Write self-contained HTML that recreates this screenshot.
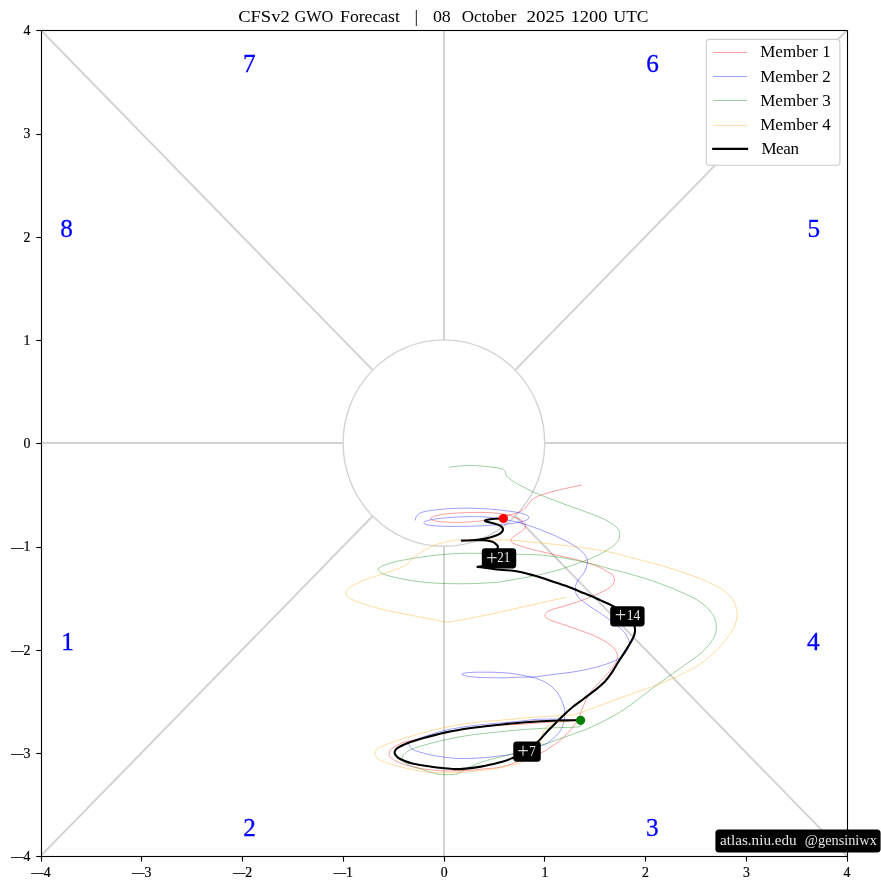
<!DOCTYPE html>
<html lang="en"><head><meta charset="utf-8"><title>CFSv2 GWO Forecast</title>
<style>html,body{margin:0;padding:0;background:#fff}body{width:881px;height:890px;overflow:hidden}svg{display:block}text{font-family:"Liberation Serif", "DejaVu Serif", serif;fill:#000}.tk{font-size:13.6px;stroke:#000;stroke-width:0.2px}.ph{font-size:24.2px;fill:#0000ff;stroke:#0000ff;stroke-width:0.3px}.lg{font-size:17px}.lb{font-size:13.6px;fill:#ececec}.mem{fill:none;stroke-width:0.75;stroke-opacity:0.5;stroke-linejoin:round}.gl{stroke:#d3d3d3;stroke-width:2;fill:none}</style></head><body>
<svg width="881" height="890" viewBox="0 0 881 890">
<rect width="881" height="890" fill="#fff"/>
<defs><clipPath id="ax"><rect x="41.5" y="30.5" width="806" height="826"/></clipPath></defs>
<g clip-path="url(#ax)">
<g class="gl">
<line x1="41.5" y1="443" x2="343.1" y2="443"/>
<line x1="544.6" y1="443" x2="847.5" y2="443"/>
<line x1="444" y1="30.5" x2="444" y2="339.9"/>
<line x1="444" y1="546.2" x2="444" y2="856.5"/>
<line x1="372.7" y1="516" x2="40.9" y2="855.9"/>
<line x1="372.7" y1="370.1" x2="40.9" y2="30.2"/>
<line x1="515.1" y1="516" x2="846.9" y2="855.9"/>
<line x1="515.1" y1="370.1" x2="846.9" y2="30.2"/>
</g>
<ellipse cx="443.9" cy="443.1" rx="100.8" ry="103.2" fill="none" stroke="#d3d3d3" stroke-width="1.4"/>
<path class="mem" stroke="#ff0000" d="M580.6 720.3C576.1 720.5 563.4 721.1 553.6 721.8C543.8 722.4 530.8 723.6 521.8 724.2C512.8 724.8 508.2 724.7 499.8 725.3C491.4 725.9 480.2 726.6 471.2 727.8C462.2 729 453.7 730.9 445.8 732.6C437.9 734.3 430.5 736.5 423.6 738.1C416.7 739.7 409.8 740.4 404.5 742.1C399.2 743.8 394.3 746.8 391.8 748.5C389.3 750.2 389.7 750.9 389.4 752.4C389.1 753.9 388.5 755.5 390.2 757.2C391.9 758.9 395.5 761.1 399.7 762.8C403.9 764.5 409 766.2 415.6 767.5C422.2 768.8 431.6 770.2 439.5 770.7C447.4 771.2 455.4 771.1 463.3 770.7C471.2 770.4 481 769.2 487.1 768.6C493.2 768 495.4 768.2 499.8 767.3C504.2 766.4 506.9 765.5 513.8 763.1C520.6 760.7 534.8 755.4 540.9 752.8C547 750.1 547 749.5 550.4 747.2C553.8 745 557.8 742.6 561.5 739.3C565.2 736 569.7 730.9 572.5 727.5C575.3 724.1 577 721.8 578.5 719C580 716.2 580.2 713.9 581.4 710.9C582.6 707.9 584.1 704 585.6 700.9C587.1 697.8 588.5 695 590.6 692.1C592.7 689.2 595.7 686 598.2 683.3C600.7 680.6 603.1 678.6 605.5 675.9C607.9 673.2 610.9 669.9 612.8 667.2C614.7 664.5 616.4 662 617 659.5C617.6 657 617.9 654.8 616.6 652.3C615.4 649.8 613.3 647 609.5 644.2C605.7 641.4 600.2 638.4 593.6 635.5C587 632.6 577.1 629.4 569.7 626.7C562.3 624.1 553.2 621.6 549.1 619.6C545 617.6 544.8 616.4 545.1 614.8C545.4 613.2 546.6 611.7 550.7 610C554.8 608.3 562.6 606.9 569.7 604.5C576.9 602.1 587 598.6 593.6 595.8C600.2 593 606.1 590.2 609.5 587.8C612.9 585.4 613.6 583.5 614.2 581.5C614.9 579.5 614.1 577.3 613.4 575.9C612.6 574.5 612.2 574.7 609.7 573.2C607.2 571.7 603.5 568.9 598.5 566.8C593.5 564.7 586.6 562.4 579.5 560.4C572.4 558.4 563.6 556.8 555.6 554.9C547.6 553 538.7 551.1 531.8 549.3C524.9 547.4 517.8 545.4 514.3 543.8C510.8 542.2 510.8 541.3 511.1 539.8C511.4 538.3 513.8 536.7 515.9 535C518 533.3 522.2 531.2 523.8 529.5C525.4 527.8 525.9 526.3 525.4 524.7C524.9 523.1 522.8 521.2 520.7 519.9C518.6 518.6 514.8 517.5 512.7 516.7C510.6 515.9 511.7 515.5 508.3 514.9C504.9 514.2 499 513.2 492.4 512.8C485.8 512.4 476.6 512.3 468.6 512.5C460.7 512.7 450.5 513.4 444.7 514.1C438.9 514.8 436 515.7 433.6 516.5C431.2 517.3 429.9 518 430.4 518.8C430.9 519.6 433.1 520.6 436.8 521.2C440.5 521.8 447.4 522.2 452.7 522.3C458 522.4 463.3 522.3 468.6 522C473.9 521.7 479.7 521.1 484.5 520.4C489.3 519.7 493.3 518.8 497.2 518C501.1 517.2 504.5 516.4 507.9 515.5C511.3 514.6 514.6 514 517.5 512.8C520.4 511.5 523.3 509.9 525.4 508C527.5 506.1 528.4 503.5 530.2 501.6C532.1 499.8 533.6 498.3 536.5 496.9C539.4 495.4 543.2 494.2 547.7 492.9C552.2 491.6 557.9 490.2 563.6 488.9C569.3 487.6 578.8 485.6 581.8 485"/>
<path class="mem" stroke="#0000ff" d="M580.6 720.3C577.2 720.1 567.1 719.5 560 719.3C552.9 719.1 544.1 719 537.7 719.3C531.3 719.6 528.1 720.4 521.8 721C515.5 721.6 508.2 722.2 499.8 723C491.4 723.8 480.2 724.7 471.2 725.9C462.2 727.1 452.9 728.6 445.8 730.2C438.7 731.8 433.3 733.7 428.3 735.3C423.3 736.9 418.7 738.4 415.6 739.7C412.5 741 410.7 742 409.6 742.9C408.6 743.8 408.8 744.2 409.3 745.3C409.8 746.4 410 748 412.4 749.3C414.8 750.6 419.1 752 423.6 753.2C428.1 754.4 433.7 755.5 439.5 756.4C445.3 757.3 451.9 758.2 458.5 758.5C465.1 758.8 472.3 758.4 479.2 758C486.1 757.6 494 756.6 499.8 755.9C505.6 755.2 506.9 755.3 513.8 753.6C520.6 751.9 534.8 747.7 540.9 745.6C547 743.5 547.2 743.2 550.4 740.8C553.6 738.4 557.6 734.5 559.9 731.3C562.1 728.1 563.1 725.2 563.9 721.8C564.7 718.4 564.8 713.4 564.7 710.7C564.6 708 564.6 708.2 563.5 705.4C562.4 702.5 560.5 697.1 558.1 693.6C555.7 690.1 552.3 686.9 549 684.5C545.7 682.1 541.7 680.4 538.1 679C534.5 677.6 531.5 677.2 527.2 676.3C523 675.4 518.1 674.3 512.6 673.6C507.2 672.9 501.1 672.5 494.5 672.3C487.9 672.1 478 672.1 472.7 672.3C467.4 672.5 464.2 673.1 462.7 673.6C461.2 674.1 461.3 674.8 463.6 675.4C465.9 676 470.2 676.8 476.3 677.2C482.4 677.6 492.9 677.8 499.9 677.8C506.9 677.8 512.4 677.4 518.1 677.2C523.9 677.1 528.5 677.4 534.4 676.9C540.3 676.4 546.6 675.3 553.8 674.4C561 673.5 569.8 672.7 577.7 671.2C585.7 669.8 594.6 667.8 601.5 665.7C608.4 663.6 614.8 661 619 658.5C623.2 656 625.2 653 626.9 650.6C628.6 648.2 629 646.1 629.3 644.2C629.6 642.4 629.4 641.6 628.5 639.5C627.6 637.4 626.4 634.4 623.8 631.5C621.1 628.6 616.3 624.9 612.6 622C608.9 619.1 605.7 616.9 601.5 614C597.3 611.1 591.2 607.4 587.2 604.5C583.2 601.6 579.7 599.1 577.7 596.5C575.7 593.9 575.3 591.3 575.3 588.6C575.3 585.9 576.4 583 577.9 580.3C579.4 577.6 582.6 575.3 584.2 572.4C585.8 569.5 587.1 565.4 587.4 562.8C587.7 560.1 587.1 558.8 585.8 556.5C584.5 554.2 582.7 551.8 579.5 549.3C576.3 546.8 572 544.2 566.7 541.4C561.4 538.6 554.9 535.5 547.7 532.6C540.6 529.7 530.7 526 523.8 523.9C516.9 521.8 512.9 521.1 506.4 519.9C499.8 518.7 492.1 517.4 484.5 516.9C476.9 516.4 468.6 516.6 460.6 516.9C452.7 517.2 442.6 518.1 436.8 518.8C431 519.5 427.8 520.5 425.7 521.2C423.6 522 423.6 522.6 424.1 523.3C424.6 524 425.4 524.7 428.8 525.2C432.2 525.7 438.1 526.1 444.7 526.3C451.3 526.5 460.7 526.5 468.6 526.3C476.6 526.1 485 525.7 492.4 525.2C499.8 524.7 507.5 524.1 513.1 523.3C518.7 522.5 523.2 521.4 525.8 520.4C528.4 519.4 529.2 518.2 528.9 517.2C528.6 516.2 526.8 515 524.2 514.1C521.6 513.2 518.4 512.5 513.1 511.7C507.8 510.9 499.8 509.9 492.4 509.3C485 508.7 476.6 508.2 468.6 508.2C460.7 508.1 452.1 508.4 444.7 509C437.3 509.6 428.7 510.6 424.1 511.7C419.5 512.8 418.4 514.2 416.9 515.7C415.4 517.2 415.6 519.6 415.3 520.4"/>
<path class="mem" stroke="#008000" d="M580.6 720.3C580.5 721.3 584.5 725.2 580 726.5C575.5 727.8 563.3 727.3 553.6 727.8C543.9 728.3 530.8 729 521.8 729.7C512.8 730.4 508.2 730.9 499.8 731.8C491.4 732.7 480.2 733.7 471.2 735C462.2 736.3 453.7 738 445.8 739.7C437.9 741.4 429.4 743.6 423.6 745.3C417.8 746.9 414.1 748 410.8 749.6C407.5 751.2 405.1 753.1 403.7 754.8C402.3 756.5 401.9 758 402.6 759.6C403.3 761.2 404.2 762.7 407.7 764.4C411.2 766.1 418.3 768.2 423.6 769.9C428.9 771.6 434.2 773.6 439.5 774.4C444.8 775.1 452.7 774.4 455.3 774.4M455.3 774.4C456.1 774.1 457.8 773.8 460.4 772.5C462.9 771.2 466.2 768.4 470.6 766.4C475.1 764.4 482.2 761.9 487.1 760.4C492 758.9 495.4 758.3 499.8 757.2C504.2 756.1 506.9 755.5 513.8 753.6C520.6 751.7 532.9 748.2 540.9 745.6C548.9 743 554 740.9 561.5 738.2C569 735.5 578.4 732.4 586 729.3C593.6 726.2 600.8 722.6 607 719.4C613.2 716.2 617.2 714 623 710.2C628.8 706.4 634.7 701.7 641.5 696.6C648.3 691.5 656.7 685.1 664 679.8C671.3 674.4 679 669.2 685.4 664.5C691.8 659.8 697.9 656 702.5 651.7C707.1 647.4 710.9 643 713.2 638.9C715.5 634.8 716.4 631 716.4 627.1C716.4 623.2 715.5 619.3 713.2 615.4C710.9 611.5 707.1 607.3 702.5 603.7C697.9 600.1 693.6 597.8 685.4 594C677.2 590.2 664.1 584.9 653.4 581.2C642.7 577.5 628.3 573.6 621.3 571.6C614.3 569.6 616.9 570.7 611.2 569.2C605.6 567.7 595.3 564.6 587.4 562.8C579.5 560.9 571.5 559.4 563.6 558.1C555.7 556.8 547.7 555.5 539.7 554.9C531.8 554.3 524.2 554.6 515.9 554.4C507.6 554.2 498.1 553.8 489.8 553.6C481.5 553.4 474.1 553.1 466.2 553.2C458.3 553.4 450.2 553.8 442.6 554.5C435 555.2 428.1 556.1 420.8 557.2C413.5 558.3 405.1 559.6 399 560.9C392.9 562.2 387.8 563.8 384.5 565C381.2 566.2 379.9 567.1 379 568.1C378.1 569.1 378.1 569.8 379 570.9C379.9 572 380.6 573.1 384.5 574.5C388.4 575.9 396 577.7 402.6 579C409.2 580.3 416.8 581.5 424.4 582.3C432 583.1 440.2 583.4 448.1 583.6C456 583.8 464.8 583.8 471.7 583.6C478.6 583.5 485.1 583 489.8 582.7C494.5 582.4 493 583 500 581.9C507 580.8 522.5 578.1 531.8 576.3C541.1 574.4 547.6 573 555.6 570.8C563.6 568.5 572.9 565.2 579.5 562.8C586.1 560.4 590.3 558.9 595.3 556.5C600.3 554.1 606 551 609.7 548.5C613.4 546 616 543.5 617.6 541.4C619.2 539.3 619.4 537.8 619.5 535.8C619.6 533.8 619.8 531.6 618.4 529.5C617 527.4 614.5 525.2 611.2 523.1C607.9 521 603.8 519 598.5 516.7C593.2 514.5 586.6 512.2 579.5 509.6C572.4 507 563.6 503.9 555.6 500.8C547.6 497.8 538.9 494.6 531.8 491.3C524.6 488 516.9 483.6 512.7 481C508.5 478.4 507.7 477.1 506.4 475.4C505.1 473.7 505.9 471.9 504.8 470.7C503.7 469.5 503.6 469.1 500 468.3C496.4 467.6 488.8 466.7 483.2 466.2C477.6 465.7 471.9 465.3 466.2 465.5C460.5 465.7 452 466.9 449.2 467.2"/>
<path class="mem" stroke="#ffa500" d="M580.6 720.3C578 720.5 569.5 721 565 721.5C560.5 722 556.8 722.3 553.6 723.4C550.4 724.5 547.5 726.2 545.6 728.1C543.7 730 543.2 732.2 542.4 734.5C541.6 736.8 542.1 738.7 540.9 741.6C539.7 744.5 538.2 748.5 535 752C531.8 755.5 526.6 759.9 521.8 762.3C516.9 764.7 511.2 765.1 505.9 766.3C500.6 767.5 497.1 768.5 490 769.5C482.9 770.5 471.7 771.8 463.3 772.3C454.9 772.8 446.1 772.9 439.5 772.8C432.9 772.7 430.2 772.5 423.6 771.5C417 770.5 406.9 768.6 399.7 766.7C392.5 764.9 384.8 762.5 380.7 760.4C376.6 758.3 375.4 756.1 375.1 754C374.8 751.9 375 750.1 379.1 747.7C383.2 745.3 392.3 742.2 399.7 739.7C407.1 737.2 415.9 734.7 423.6 732.6C431.3 730.5 437.9 728.9 445.8 727.3C453.7 725.7 462.2 724.2 471.2 723C480.2 721.8 488.7 721.3 499.8 720.3C510.9 719.3 526.1 717.9 537.7 717C549.3 716.1 562.9 715.7 569.5 715.2C576.1 714.7 572.1 715.5 577.4 713.8C582.7 712.1 593.9 707.8 601.2 705.1C608.5 702.4 614.4 700.1 621.3 697.6C628.2 695.1 634.5 693.1 642.7 690.1C650.9 687.1 661.6 683.3 670.5 679.4C679.4 675.5 688.6 671.2 696.1 666.6C703.6 662 710 656.7 715.3 651.7C720.6 646.7 724.9 641 728.1 636.7C731.3 632.4 733 629.7 734.5 626.1C736 622.5 736.9 618.8 737.1 615.4C737.3 612 736.8 609 735.6 605.8C734.5 602.6 733.2 599.4 730.2 596.2C727.2 593 723.1 589.8 717.4 586.6C711.7 583.4 705 580.4 696.1 577C687.2 573.6 674.7 569.5 664 566.3C653.3 563.1 639.5 559.8 632 557.8C624.5 555.8 624.5 555.5 619.2 554.3C613.9 553 609.3 551.8 600 550.3C590.7 548.8 575 546.6 563.6 545.3C552.2 543.9 540.5 543.1 531.8 542.2C523.1 541.4 519.2 540.6 511.2 540.2C503.2 539.8 492 539.8 483.7 539.7C475.4 539.6 468 539.2 461.2 539.7C454.4 540.2 448.1 541.3 442.6 542.7C437.1 544.1 432.6 545.9 428.1 548.2C423.6 550.5 419 553.6 415.4 556.3C411.8 559 409.3 562.4 406.3 564.5C403.3 566.6 401.4 567.3 397.2 569C393 570.7 386.6 572.5 380.9 574.5C375.1 576.5 367.8 578.7 362.7 580.8C357.6 582.9 352.7 585.4 350 587.2C347.3 589 346.8 590.2 346.3 591.7C345.9 593.2 345.5 594.6 347.3 596.3C349.1 598 351 599.4 357.2 601.7C363.4 604 375.4 607.6 384.5 609.9C393.6 612.2 403.2 613.7 411.7 615.4C420.2 617.1 429.6 618.8 435.3 619.9C441.1 621 442.6 622 446.2 622.1C449.8 622.2 452.2 621.6 457.1 620.8C462 620 469.9 618.3 475.3 617.2C480.8 616.1 480.7 616.4 489.8 614.4C498.9 612.4 517.2 608.1 530 605.3C542.8 602.4 560.4 598.6 566.5 597.3"/>
<path fill="none" stroke="#000" stroke-width="2.1" stroke-linecap="round" stroke-linejoin="round" d="M580.6 720.3C577 720.3 568.5 720.2 559.2 720.5C550 720.8 535 721.5 525.1 722.2C515.2 722.9 508.8 723.7 499.8 724.7C490.8 725.7 480.2 726.7 471.2 728C462.2 729.3 453.7 730.7 445.8 732.4C437.9 734.1 430.2 736.2 423.6 738.1C417 740 410.4 742.1 406.1 743.7C401.9 745.3 400 746.5 398.1 747.7C396.2 748.9 395.5 749.7 395 750.9C394.5 752.1 394.5 753.5 395.3 754.8C396.1 756.1 396.9 757.3 399.7 758.8C402.5 760.3 407.1 762.3 412.4 763.6C417.7 764.9 426.6 766 431.5 766.7C436.4 767.4 438.2 767.6 442 768C445.8 768.4 450.4 769 454.3 769.1C458.2 769.2 461.1 769 465.5 768.6C469.9 768.2 476.6 767.3 480.9 766.6C485.2 765.9 487.7 765.3 491.1 764.5C494.5 763.7 497.9 763 501.3 762C504.7 761 507.2 760.2 511.5 758.4C515.8 756.6 522.6 753.8 527 751C531.4 748.2 534.8 744.7 537.9 741.7C541 738.7 543.2 735.7 545.9 732.9C548.5 730.1 551.2 727.6 553.8 725C556.4 722.4 558.2 720.2 561.4 717.2C564.5 714.2 568.9 710.1 572.7 707C576.5 703.9 580.3 701.4 584.1 698.5C587.9 695.6 592 692.6 595.4 689.9C598.8 687.1 601.8 684.8 604.5 682C607.2 679.2 609.3 676.3 611.6 672.9C613.9 669.5 616.1 665.4 618.4 661.8C620.7 658.2 623.1 654.8 625.2 651.4C627.3 648 629.8 644 631.2 641.5C632.6 639 633.2 637.9 633.8 636.2C634.4 634.5 634.9 632.7 635 631.1C635.1 629.5 635.3 629 634.6 626.8C633.9 624.6 633.1 620.6 631 618C628.9 615.4 625.4 613.2 622 611C618.6 608.8 614.5 606.8 610.9 605C607.3 603.2 604 601.9 600.6 600.4C597.2 598.9 593.8 597.2 590.4 595.8C587 594.3 583.6 593.1 580.2 591.7C576.8 590.3 573.8 588.8 570 587.4C566.2 586 561.6 584.5 557.4 583.1C553.2 581.7 549.1 580.1 544.9 578.7C540.7 577.4 537.1 576.2 532.4 575C527.6 573.8 522.6 572.2 516.4 571.2C510.2 570.2 500.2 569.9 495 569.3C489.8 568.7 487.9 568.2 485 567.8C482.1 567.4 478.8 567 477.5 566.9M477.5 566.9C478.6 566.6 481.8 566.6 484 565C486.2 563.4 488.7 559.8 491 557C493.3 554.2 496.6 550 497.6 548C498.6 546 497.7 546 496.8 545C495.9 544 494.6 542.6 492.4 541.8C490.2 541 487.4 540.4 483.7 540.2C480 540 473.6 540.3 470 540.4C466.4 540.5 463.2 540.6 461.9 540.6M461.9 540.6C464.5 540.5 472.8 540.2 477.5 539.7C482.2 539.2 486.2 538.5 490 537.5C493.8 536.5 497.8 535.1 500 533.7C502.2 532.3 503 530.6 503 529.3C503 527.9 501.8 526.6 500 525.6C498.2 524.6 494.8 523.8 492.4 523.1C490 522.4 486.6 521.9 485.6 521.4C484.6 520.9 484.6 520.4 486.2 520C487.8 519.6 492.1 519 495 518.8C497.9 518.5 502 518.5 503.4 518.5"/>
<circle cx="580.6" cy="720.3" r="4.6" fill="#008000"/>
<circle cx="503.4" cy="518.5" r="4.6" fill="#ff0000"/>
</g>
<rect x="513.3" y="741.5" width="27.5" height="20.2" rx="3.4" ry="3.4" fill="#000"/>
<text class="lb" y="755.6"><tspan x="517.3" dy="2.1" style="font-size:20.5px;fill:#d4d4d4">+</tspan><tspan x="529.2" dy="-2.1" textLength="6.5" lengthAdjust="spacingAndGlyphs">7</tspan></text>
<rect x="610.2" y="606.2" width="34.4" height="20.3" rx="3.4" ry="3.4" fill="#000"/>
<text class="lb" y="619.6"><tspan x="614.8" dy="2.1" style="font-size:20.5px;fill:#d4d4d4">+</tspan><tspan x="626.8" dy="-2.1" textLength="13.6" lengthAdjust="spacingAndGlyphs">14</tspan></text>
<rect x="481.8" y="548.3" width="34.4" height="20.2" rx="3.4" ry="3.4" fill="#000"/>
<text class="lb" y="562.4"><tspan x="485.9" dy="2.1" style="font-size:20.5px;fill:#d4d4d4">+</tspan><tspan x="497.3" dy="-2.1" textLength="13.1" lengthAdjust="spacingAndGlyphs">21</tspan></text>
<text class="ph" x="60.3" y="236.9" textLength="12.6" lengthAdjust="spacingAndGlyphs">8</text>
<text class="ph" x="61.2" y="649.8" textLength="12.6" lengthAdjust="spacingAndGlyphs">1</text>
<text class="ph" x="807.5" y="236.9" textLength="12.6" lengthAdjust="spacingAndGlyphs">5</text>
<text class="ph" x="806.9" y="649.8" textLength="12.6" lengthAdjust="spacingAndGlyphs">4</text>
<text class="ph" x="243" y="71.8" textLength="12.6" lengthAdjust="spacingAndGlyphs">7</text>
<text class="ph" x="646.2" y="71.8" textLength="12.6" lengthAdjust="spacingAndGlyphs">6</text>
<text class="ph" x="243.3" y="835.9" textLength="12.6" lengthAdjust="spacingAndGlyphs">2</text>
<text class="ph" x="646.1" y="835.9" textLength="12.6" lengthAdjust="spacingAndGlyphs">3</text>
<rect x="41.5" y="30.5" width="806" height="826" fill="none" stroke="#000" stroke-width="1.1"/>
<line x1="41.5" y1="856.5" x2="41.5" y2="861.7" stroke="#000" stroke-width="1.1"/>
<line x1="36.3" y1="856.5" x2="41.5" y2="856.5" stroke="#000" stroke-width="1.1"/>
<text class="tk" y="876.8"><tspan x="30.2" dy="1.1" textLength="14.8" lengthAdjust="spacingAndGlyphs">−</tspan><tspan x="43.8" dy="-1.1" textLength="6.9" lengthAdjust="spacingAndGlyphs">4</tspan></text>
<text class="tk" y="861.1"><tspan x="9.95" dy="1.1" textLength="14.8" lengthAdjust="spacingAndGlyphs">−</tspan><tspan x="23.5" dy="-1.1" textLength="6.9" lengthAdjust="spacingAndGlyphs">4</tspan></text>
<line x1="141.5" y1="856.5" x2="141.5" y2="861.7" stroke="#000" stroke-width="1.1"/>
<line x1="36.3" y1="753.5" x2="41.5" y2="753.5" stroke="#000" stroke-width="1.1"/>
<text class="tk" y="876.8"><tspan x="131" dy="1.1" textLength="14.8" lengthAdjust="spacingAndGlyphs">−</tspan><tspan x="144.6" dy="-1.1" textLength="6.9" lengthAdjust="spacingAndGlyphs">3</tspan></text>
<text class="tk" y="757.9"><tspan x="9.95" dy="1.1" textLength="14.8" lengthAdjust="spacingAndGlyphs">−</tspan><tspan x="23.5" dy="-1.1" textLength="6.9" lengthAdjust="spacingAndGlyphs">3</tspan></text>
<line x1="242.5" y1="856.5" x2="242.5" y2="861.7" stroke="#000" stroke-width="1.1"/>
<line x1="36.3" y1="650.5" x2="41.5" y2="650.5" stroke="#000" stroke-width="1.1"/>
<text class="tk" y="876.8"><tspan x="231.7" dy="1.1" textLength="14.8" lengthAdjust="spacingAndGlyphs">−</tspan><tspan x="245.3" dy="-1.1" textLength="6.9" lengthAdjust="spacingAndGlyphs">2</tspan></text>
<text class="tk" y="654.6"><tspan x="9.95" dy="1.1" textLength="14.8" lengthAdjust="spacingAndGlyphs">−</tspan><tspan x="23.5" dy="-1.1" textLength="6.9" lengthAdjust="spacingAndGlyphs">2</tspan></text>
<line x1="343.5" y1="856.5" x2="343.5" y2="861.7" stroke="#000" stroke-width="1.1"/>
<line x1="36.3" y1="547.5" x2="41.5" y2="547.5" stroke="#000" stroke-width="1.1"/>
<text class="tk" y="876.8"><tspan x="332.5" dy="1.1" textLength="14.8" lengthAdjust="spacingAndGlyphs">−</tspan><tspan x="346.1" dy="-1.1" textLength="6.9" lengthAdjust="spacingAndGlyphs">1</tspan></text>
<text class="tk" y="551.4"><tspan x="9.95" dy="1.1" textLength="14.8" lengthAdjust="spacingAndGlyphs">−</tspan><tspan x="23.5" dy="-1.1" textLength="6.9" lengthAdjust="spacingAndGlyphs">1</tspan></text>
<line x1="444.5" y1="856.5" x2="444.5" y2="861.7" stroke="#000" stroke-width="1.1"/>
<line x1="36.3" y1="443.5" x2="41.5" y2="443.5" stroke="#000" stroke-width="1.1"/>
<text class="tk" x="440.7" y="876.8" textLength="6.9" lengthAdjust="spacingAndGlyphs">0</text>
<text class="tk" x="23.5" y="448.2" textLength="6.9" lengthAdjust="spacingAndGlyphs">0</text>
<line x1="544.5" y1="856.5" x2="544.5" y2="861.7" stroke="#000" stroke-width="1.1"/>
<line x1="36.3" y1="340.5" x2="41.5" y2="340.5" stroke="#000" stroke-width="1.1"/>
<text class="tk" x="541.4" y="876.8" textLength="6.9" lengthAdjust="spacingAndGlyphs">1</text>
<text class="tk" x="23.5" y="344.9" textLength="6.9" lengthAdjust="spacingAndGlyphs">1</text>
<line x1="645.5" y1="856.5" x2="645.5" y2="861.7" stroke="#000" stroke-width="1.1"/>
<line x1="36.3" y1="237.5" x2="41.5" y2="237.5" stroke="#000" stroke-width="1.1"/>
<text class="tk" x="642.1" y="876.8" textLength="6.9" lengthAdjust="spacingAndGlyphs">2</text>
<text class="tk" x="23.5" y="241.7" textLength="6.9" lengthAdjust="spacingAndGlyphs">2</text>
<line x1="746.5" y1="856.5" x2="746.5" y2="861.7" stroke="#000" stroke-width="1.1"/>
<line x1="36.3" y1="134.5" x2="41.5" y2="134.5" stroke="#000" stroke-width="1.1"/>
<text class="tk" x="742.9" y="876.8" textLength="6.9" lengthAdjust="spacingAndGlyphs">3</text>
<text class="tk" x="23.5" y="138.4" textLength="6.9" lengthAdjust="spacingAndGlyphs">3</text>
<line x1="847.5" y1="856.5" x2="847.5" y2="861.7" stroke="#000" stroke-width="1.1"/>
<line x1="36.3" y1="30.5" x2="41.5" y2="30.5" stroke="#000" stroke-width="1.1"/>
<text class="tk" x="843.6" y="876.8" textLength="6.9" lengthAdjust="spacingAndGlyphs">4</text>
<text class="tk" x="23.5" y="35.2" textLength="6.9" lengthAdjust="spacingAndGlyphs">4</text>
<text class="lg" y="21.7"><tspan x="238.2" textLength="51.5" lengthAdjust="spacingAndGlyphs">CFSv2</tspan> <tspan x="294.4" textLength="39" lengthAdjust="spacingAndGlyphs">GWO</tspan> <tspan x="340.1" textLength="59.8" lengthAdjust="spacingAndGlyphs">Forecast</tspan> <tspan x="414.5" textLength="3.6" lengthAdjust="spacingAndGlyphs">|</tspan> <tspan x="432.9" textLength="17.9" lengthAdjust="spacingAndGlyphs">08</tspan> <tspan x="461.8" textLength="54.7" lengthAdjust="spacingAndGlyphs">October</tspan> <tspan x="526.4" textLength="38" lengthAdjust="spacingAndGlyphs">2025</tspan> <tspan x="570.7" textLength="36.6" lengthAdjust="spacingAndGlyphs">1200</tspan> <tspan x="613.5" textLength="35" lengthAdjust="spacingAndGlyphs">UTC</tspan></text>
<rect x="706.3" y="39.4" width="133.6" height="125.9" rx="3.2" ry="3.2" fill="#fff" stroke="#ccc" stroke-width="1.1"/>
<line x1="713.2" y1="52.5" x2="747.1" y2="52.5" stroke="#ff0000" stroke-opacity="0.5" stroke-width="0.75"/>
<text class="lg" x="760.2" y="57.2" textLength="70.5" lengthAdjust="spacing">Member 1</text>
<line x1="713.2" y1="76.5" x2="747.1" y2="76.5" stroke="#0000ff" stroke-opacity="0.5" stroke-width="0.75"/>
<text class="lg" x="760.2" y="81.5" textLength="70.5" lengthAdjust="spacing">Member 2</text>
<line x1="713.2" y1="100.5" x2="747.1" y2="100.5" stroke="#008000" stroke-opacity="0.5" stroke-width="0.75"/>
<text class="lg" x="760.2" y="105.8" textLength="70.5" lengthAdjust="spacing">Member 3</text>
<line x1="713.2" y1="125.4" x2="747.1" y2="125.4" stroke="#ffa500" stroke-opacity="0.5" stroke-width="0.75"/>
<text class="lg" x="760.2" y="130.1" textLength="70.5" lengthAdjust="spacing">Member 4</text>
<line x1="713.2" y1="148.9" x2="747.1" y2="148.9" stroke="#000" stroke-width="2.1" stroke-linecap="square"/>
<text class="lg" x="761.4" y="154.4" textLength="37.5" lengthAdjust="spacing">Mean</text>
<rect x="715.4" y="829.4" width="165.2" height="23.2" rx="3.6" ry="3.6" fill="#000"/>
<text y="844.8" style="font-size:15px;fill:#e6e6e6"><tspan x="720.1" textLength="76.5" lengthAdjust="spacingAndGlyphs">atlas.niu.edu</tspan>  <tspan x="804.8" textLength="72" lengthAdjust="spacingAndGlyphs">@gensiniwx</tspan></text>
</svg></body></html>
